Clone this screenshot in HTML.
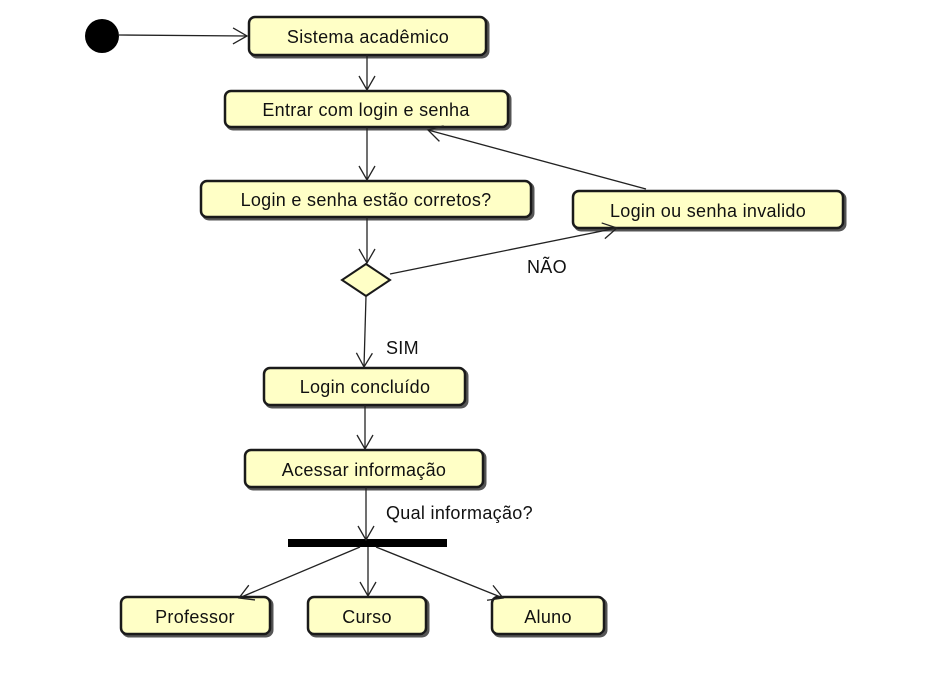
<!DOCTYPE html>
<html><head><meta charset="utf-8"><style>
html,body{margin:0;padding:0;background:#fff;}
svg text{font-family:"Liberation Sans",sans-serif;font-size:18px;letter-spacing:0.3px;fill:#111;}
</style></head><body>
<svg width="931" height="682" viewBox="0 0 931 682" xmlns="http://www.w3.org/2000/svg">
<defs>
<marker id="a" markerWidth="18" markerHeight="18" refX="15" refY="9" orient="auto" markerUnits="userSpaceOnUse">
<path d="M1,1 L15,9 L1,17" fill="none" stroke="#222" stroke-width="1.3"/>
</marker>
</defs>
<g fill="none" stroke="#555" stroke-width="3">
<rect x="251" y="19" width="237" height="38" rx="6"/>
<rect x="227" y="93" width="283" height="36" rx="6"/>
<rect x="203" y="183" width="330" height="36" rx="6"/>
<rect x="575" y="193" width="270" height="37" rx="6"/>
<rect x="266" y="370" width="201" height="37" rx="6"/>
<rect x="247" y="452" width="238" height="37" rx="6"/>
<rect x="123" y="599" width="149" height="37" rx="6"/>
<rect x="310" y="599" width="118" height="37" rx="6"/>
<rect x="494" y="599" width="112" height="37" rx="6"/>
</g>
<g fill="#ffffc6" stroke="#1a1a1a" stroke-width="2.5">
<rect x="249" y="17" width="237" height="38" rx="6"/>
<rect x="225" y="91" width="283" height="36" rx="6"/>
<rect x="201" y="181" width="330" height="36" rx="6"/>
<rect x="573" y="191" width="270" height="37" rx="6"/>
<rect x="264" y="368" width="201" height="37" rx="6"/>
<rect x="245" y="450" width="238" height="37" rx="6"/>
<rect x="121" y="597" width="149" height="37" rx="6"/>
<rect x="308" y="597" width="118" height="37" rx="6"/>
<rect x="492" y="597" width="112" height="37" rx="6"/>
<polygon points="366,264 390,280 366,296 342,280" stroke-width="2"/>
</g>
<circle cx="102" cy="36" r="17" fill="#000"/>
<rect x="288" y="539" width="159" height="8" fill="#000"/>
<g stroke="#222" stroke-width="1.3" fill="none" marker-end="url(#a)">
<line x1="118" y1="35" x2="247" y2="36"/>
<line x1="367" y1="55" x2="367" y2="90"/>
<line x1="367" y1="127" x2="367" y2="180"/>
<line x1="367" y1="217" x2="367" y2="263"/>
<line x1="390" y1="274" x2="617" y2="228"/>
<line x1="646" y1="189" x2="428" y2="130"/>
<line x1="366" y1="296" x2="364" y2="367"/>
<line x1="365" y1="405" x2="365" y2="449"/>
<line x1="366" y1="487" x2="366" y2="540"/>
<line x1="360" y1="547" x2="239" y2="598"/>
<line x1="368" y1="547" x2="368" y2="596"/>
<line x1="376" y1="547" x2="503" y2="598"/>
</g>
<g text-anchor="middle">
<text x="368" y="43">Sistema acadêmico</text>
<text x="366" y="116">Entrar com login e senha</text>
<text x="366" y="206">Login e senha estão corretos?</text>
<text x="708" y="217">Login ou senha invalido</text>
<text x="365" y="393">Login concluído</text>
<text x="364" y="476">Acessar informação</text>
<text x="195" y="623">Professor</text>
<text x="367" y="623">Curso</text>
<text x="548" y="623">Aluno</text>
</g>
<text x="527" y="273">NÃO</text>
<text x="386" y="354">SIM</text>
<text x="386" y="519">Qual informação?</text>
</svg>
</body></html>
